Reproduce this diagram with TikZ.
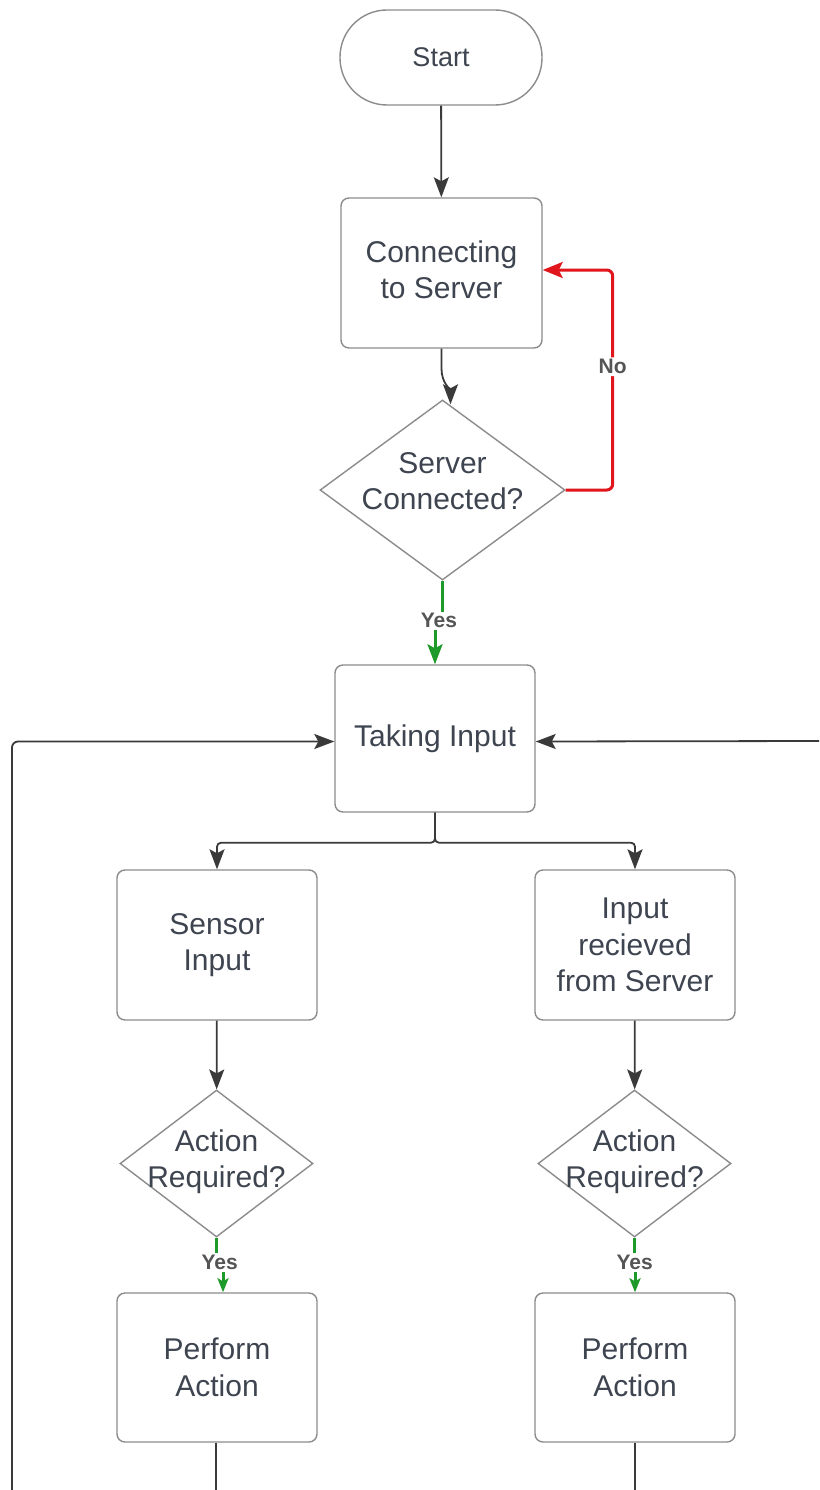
\documentclass[tikz,border=0pt]{standalone}
\usepackage{fontspec}
\setmainfont{Liberation Sans}
\usetikzlibrary{shapes.geometric,arrows.meta,calc}
\definecolor{txt}{HTML}{3E4550}
\definecolor{edge}{HTML}{8C8C8C}
\definecolor{wire}{HTML}{3A3A3A}
\definecolor{nored}{HTML}{E0161C}
\definecolor{yesgreen}{HTML}{1E9A2A}
\definecolor{lbltxt}{HTML}{555555}
\tikzset{
  every node/.style={text=txt, font=\fontsize{30}{36.5}\selectfont, align=center},
  procbox/.style={draw=edge, line width=1.4pt, rounded corners=8pt, fill=white,
    minimum width=200pt, minimum height=150pt, inner sep=0pt},
  termbox/.style={draw=edge, line width=1.4pt, rounded corners=47pt, fill=white,
    minimum width=202pt, minimum height=95pt, inner sep=0pt,
    font=\fontsize{27}{32}\selectfont},
  decbox/.style={draw=edge, line width=1.4pt, diamond, fill=white, inner sep=0pt},
  arr/.style={draw=wire, line width=1.8pt, -{Stealth[length=20pt,width=15pt,inset=4pt]}},
  noarr/.style={draw=nored, line width=3pt, rounded corners=6pt,
    -{Stealth[length=20pt,width=16pt,inset=4pt]}},
  yesarr/.style={draw=yesgreen, line width=3pt, -{Stealth[length=20pt,width=15pt,inset=4pt]}},
  yesarrs/.style={draw=yesgreen, line width=3pt, -{Stealth[length=14pt,width=11pt,inset=3pt]}},
  lbl/.style={fill=white, inner sep=2pt, text=lbltxt,
    font=\bfseries\fontsize{21}{24}\selectfont},
}
\begin{document}
\begin{tikzpicture}[x=1pt, y=-1pt]
  \useasboundingbox (0,0) rectangle (819,1490);

  % main column
  \node[termbox] (start) at (441,57.5) {Start};
  \node[procbox, minimum width=201pt] (conn) at (441.5,273) {\raisebox{4pt}{\begin{tabular}{@{}c@{}}Connecting\\to Server\end{tabular}}};
  \node[decbox, minimum width=245pt, minimum height=180pt] (srv) at (442.5,490) {};
  \node at ($(srv.center)+(0,-9)$) (srvtxt) {Server\\Connected?};
  \node[procbox, minimum height=147pt] (take) at (435,738.5) {Taking Input};

  % left branch
  \node[procbox] (sens) at (217,945) {Sensor\\Input};
  \node[decbox, minimum width=193pt, minimum height=147pt] (act1) at (216.5,1163.5) {};
  \node at ($(act1.center)+(0,-2)$) (act1txt) {Action\\Required?};
  \node[procbox, minimum height=149pt] (perf1) at (217,1367.5) {Perform\\Action};

  % right branch
  \node[procbox] (recv) at (635,945) {Input\\recieved\\from Server};
  \node[decbox, minimum width=193pt, minimum height=147pt] (act2) at (634.5,1163.5) {};
  \node at ($(act2.center)+(0,-2)$) (act2txt) {Action\\Required?};
  \node[procbox, minimum height=149pt] (perf2) at (635,1367.5) {Perform\\Action};

  % free ends at the border
  \coordinate (lbot) at (12,1490);
  \coordinate (redge) at (819,741);
  \coordinate (p1bot) at (216,1490);
  \coordinate (p2bot) at (635,1490);

  % connectors (y grows downwards)
  \draw[arr] (start) -- (conn);
  \draw[arr] (conn.south) -- ++(0,20) to[out=-90,in=90] ($(srv.north)+(8,5)$);
  \draw[noarr] (srv.east) -- ++(47,0) |- ($(conn.east)+(0,-3)$)
    node[pos=0.28, lbl] (nolbl) {No};
  \draw[yesarr] (srv.south) -- ++(0,42) -| (take.north);
  \node[lbl] (yes0) at ($(srv.south)!0.48!(take.north)$) {Yes};

  \draw[arr, rounded corners=6pt] (lbot) |- ($(take.west)+(0,3)$);
  \draw[arr] (redge) -- ($(take.east)+(0,3)$);

  \draw[arr, rounded corners=4pt] (take.south) -- ++(0,30) -| (sens.north);
  \draw[arr, rounded corners=4pt] (take.south) -- ++(0,30) -| (recv.north);

  \draw[arr] (sens) -- (act1);
  \draw[arr] (recv) -- (act2);

  \draw[yesarrs] (act1.south) -- ++(0,28) -| ($(perf1.north)+(6,0)$);
  \node[lbl] (yes1) at ($(act1.south)!0.45!(perf1.north)+(3,0)$) {Yes};
  \draw[yesarrs] (act2.south) -- ++(0,28) -| (perf2.north);
  \node[lbl] (yes2) at ($(act2.south)!0.45!(perf2.north)$) {Yes};

  \draw[draw=wire, line width=1.8pt] (perf1.south -| p1bot) -- (p1bot);
  \draw[draw=wire, line width=1.8pt] (perf2.south) -- (p2bot);
\end{tikzpicture}
\end{document}
